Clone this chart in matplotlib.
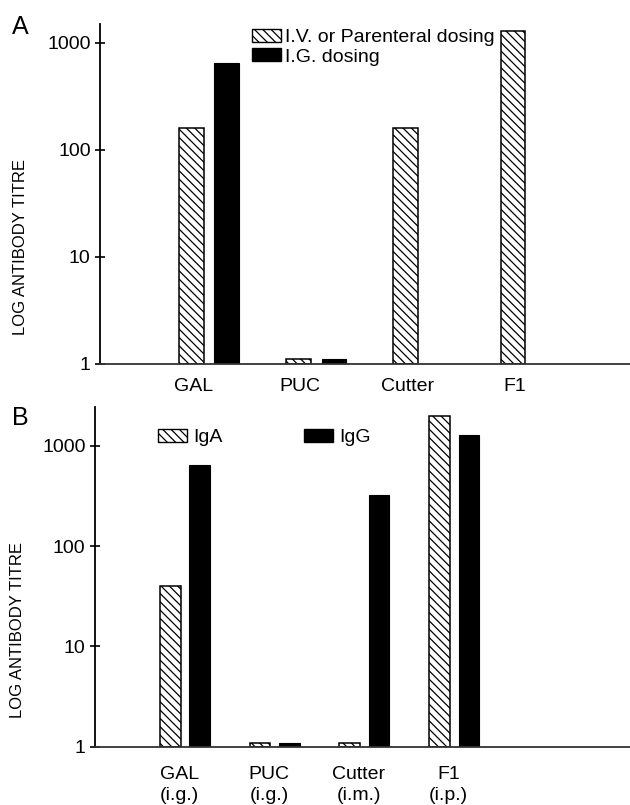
import numpy as np
import matplotlib
matplotlib.use("Agg")
import matplotlib.pyplot as plt
from matplotlib.patches import Patch

plt.rcParams['font.family'] = ['Liberation Sans', 'DejaVu Sans']
plt.rcParams['hatch.linewidth'] = 0.9

# ---- data ----
cats_a = ["GAL", "PUC", "Cutter", "F1"]
iv_a = [160, 1.1, 160, 1280]          # I.V. or Parenteral dosing
ig_a = [640, 1.1, np.nan, np.nan]     # I.G. dosing

cats_b = ["GAL\n(i.g.)", "PUC\n(i.g.)", "Cutter\n(i.m.)", "F1\n(i.p.)"]
iga_b = [40, 1.1, 1.1, 2000]
igg_b = [640, 1.1, 320, 1280]

yticks = [1, 10, 100, 1000]
ytick_labels = ["1", "10", "100", "1000"]

HATCH = '\\\\\\\\'
W = 0.229
OFF = 0.164
BASE = 1

fig = plt.figure(figsize=(6.3, 8.05), dpi=100)
axA = fig.add_axes([100/630, 1-363.7/805, 530/630, 339.7/805])
axB = fig.add_axes([95/630, 1-746.7/805, 535/630, 340/805])


def style(ax, ylim_top, xlim):
    ax.set_yscale('log')
    ax.set_ylim(1, ylim_top)
    ax.set_xlim(*xlim)
    for s in ['top', 'right']:
        ax.spines[s].set_visible(False)
    ax.spines['left'].set_linewidth(1.3)
    ax.spines['bottom'].set_linewidth(1.3)
    ax.spines['bottom'].set_color('#333333')
    ax.set_yticks(yticks)
    ax.set_yticklabels(ytick_labels)
    ax.yaxis.set_minor_locator(matplotlib.ticker.NullLocator())
    ax.tick_params(axis='y', direction='inout', length=7.5, width=1.2,
                   labelsize=14, pad=3)
    ax.tick_params(axis='x', length=0, labelsize=14)
    ax.set_ylabel("LOG ANTIBODY TITRE", fontsize=12)


def bars(ax, x, vals, hatched):
    vals = np.asarray(vals, dtype=float)
    if hatched:
        ax.bar(x, vals - BASE, W, bottom=BASE, color='white',
               edgecolor='black', hatch=HATCH, linewidth=1.1)
    else:
        ax.bar(x, vals - BASE, W, bottom=BASE, color='black',
               edgecolor='black', linewidth=0.8)


# ---- Panel A ----
xa = np.arange(len(cats_a))
bars(axA, xa - OFF, iv_a, True)
bars(axA, xa + OFF, ig_a, False)
style(axA, 10**3.175, (-1.019, 3.93))
axA.set_xticks(xa - 0.15)
axA.set_xticklabels(cats_a)
axA.tick_params(axis='x', pad=10)
axA.yaxis.set_label_coords(-0.136, 0.344)
hA = [Patch(facecolor='white', edgecolor='black', hatch=HATCH, linewidth=1.0),
      Patch(facecolor='black', edgecolor='black')]
axA.legend(hA, ["I.V. or Parenteral dosing", "I.G. dosing"],
           loc='upper left', bbox_to_anchor=(0.287, 0.985), frameon=False,
           fontsize=14, borderpad=0, borderaxespad=0, handlelength=1.5,
           handleheight=0.65, handletextpad=0.2, labelspacing=0.1)
fig.text(12/630, 1-27/805, "A", fontsize=18, ha='left', va='center')

# ---- Panel B ----
xb = np.arange(len(cats_b))
bars(axB, xb - OFF, iga_b, True)
bars(axB, xb + OFF, igg_b, False)
style(axB, 10**3.39, (-1.003, 4.96))
axB.set_xticks(xb - 0.065)
axB.set_xticklabels(cats_b, linespacing=1.3)
axB.tick_params(axis='x', pad=14)
axB.yaxis.set_label_coords(-0.131, 0.343)
hB = [Patch(facecolor='white', edgecolor='black', hatch=HATCH, linewidth=1.0),
      Patch(facecolor='black', edgecolor='black')]
axB.legend(hB, ["IgA", "IgG"], loc='upper left',
           bbox_to_anchor=(0.118, 0.935), frameon=False, ncol=2,
           fontsize=14, borderpad=0, borderaxespad=0, handlelength=1.5,
           handleheight=0.65, handletextpad=0.3, columnspacing=4.2)
fig.text(12/630, 1-418/805, "B", fontsize=18, ha='left', va='center')

fig.savefig("out.png", dpi=100)
